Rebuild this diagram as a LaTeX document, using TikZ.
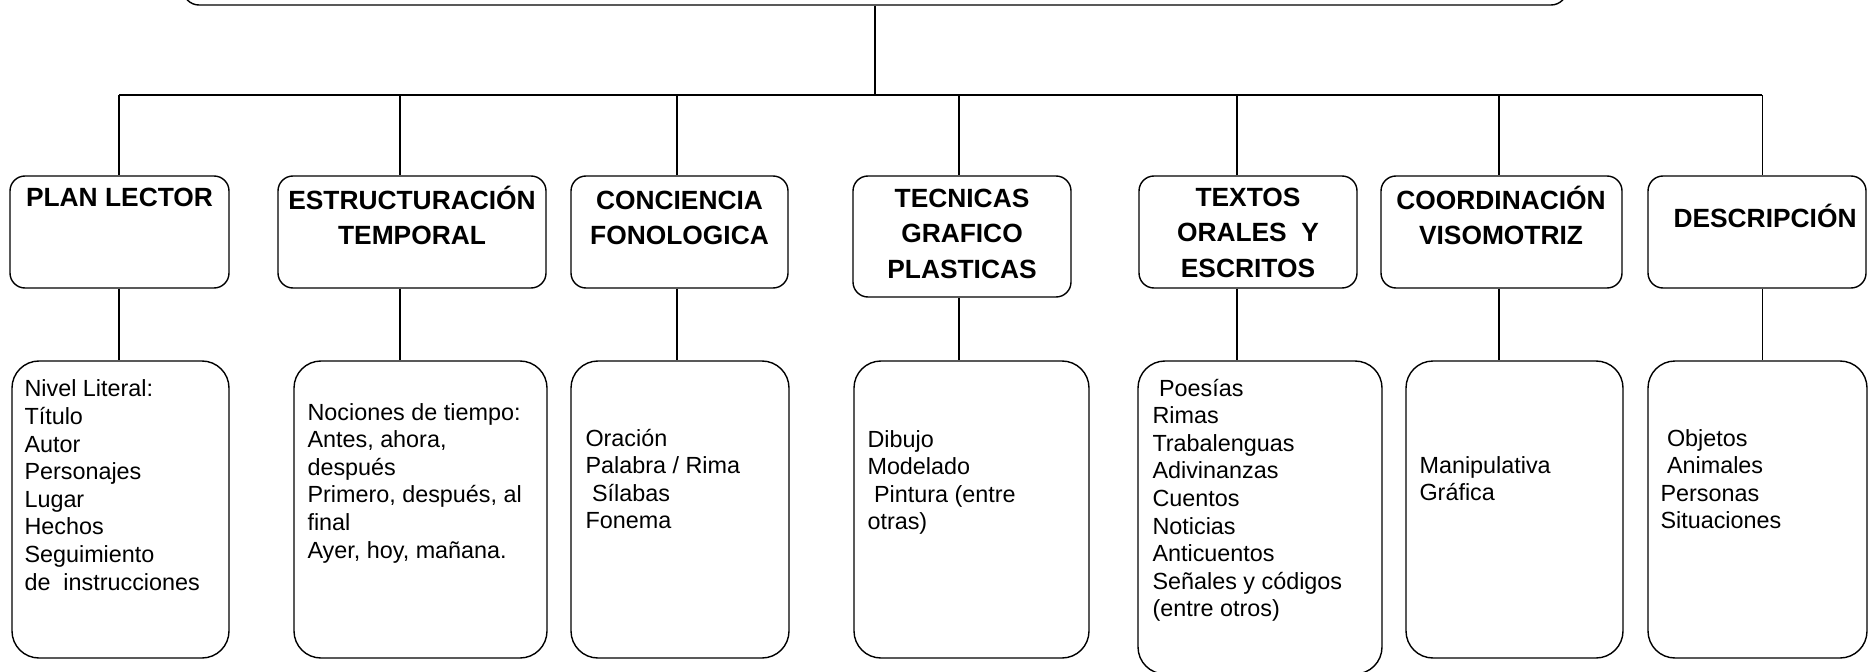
\documentclass[tikz,border=0pt]{standalone}
\usepackage{fontspec}
\setmainfont{Liberation Sans}
\usetikzlibrary{fit,
positioning}

\begin{document}
\begin{tikzpicture} [x = 0.02cm,
    y = -0.02cm,
    line width = 0.6pt,
    every node/.style={inner sep = 0pt},
    root box/.style={rectangle, draw, rounded corners = 0.32cm,
        line width = 0.8pt},
    cat box/.style={rectangle, draw, rounded corners = 0.3cm,
        line width = 0.8pt},
    item box/.style={rectangle, draw, rounded corners = 0.54cm,
        line width = 0.8pt},
    cat text/.style={font={\fontsize{15}{20.3}\selectfont\bfseries},
        align = center, anchor = base},
    item text/.style={font={\fontsize{13.3}{15.7}\selectfont},
        align = left, anchor = base west}
  ]

  \useasboundingbox (0, 0) rectangle (1871, 672);

  \node [root box, fit = {(183, -60) (1567, 5)}] (root) {};

  \node [cat box, fit = {(10, 176) (229, 288)}]    (cat1) {};
  \node [cat box, fit = {(278, 176) (546, 288)}]   (cat2) {};
  \node [cat box, fit = {(571, 176) (788, 288)}]   (cat3) {};
  \node [cat box, fit = {(853, 176) (1071, 297)}]  (cat4) {};
  \node [cat box, fit = {(1139, 176) (1357, 288)}] (cat5) {};
  \node [cat box, fit = {(1381, 176) (1622, 288)}] (cat6) {};
  \node [cat box, fit = {(1648, 176) (1866, 288)}] (cat7) {};

  \node [cat text] (cat1 txt) at (119.5, 207) {PLAN LECTOR};
  \node [cat text] (cat2 txt) at (412, 244.7)  {ESTRUCTURACIÓN\\TEMPORAL};
  \node [cat text] (cat3 txt) at (679.5, 244.7) {CONCIENCIA\\FONOLOGICA};
  \node [cat text] (cat4 txt) at (962, 278.4)  {TECNICAS\\GRAFICO\\PLASTICAS};
  \node [cat text] (cat5 txt) at (1248, 277.4) {TEXTOS\\ORALES \ Y\\ESCRITOS};
  \node [cat text] (cat6 txt) at (1501, 244.7) {COORDINACIÓN\\VISOMOTRIZ};
  \node [cat text] (cat7 txt) at (1765, 227)   {DESCRIPCIÓN};

  \node [item box, fit = {(12, 361) (229, 658)}]    (item1) {};
  \node [item box, fit = {(294, 361) (547, 658)}]   (item2) {};
  \node [item box, fit = {(571, 361) (789, 658)}]   (item3) {};
  \node [item box, fit = {(854, 361) (1089, 658)}]  (item4) {};
  \node [item box, fit = {(1138, 361) (1382, 674)}] (item5) {};
  \node [item box, fit = {(1406, 361) (1623, 658)}] (item6) {};
  \node [item box, fit = {(1648, 361) (1867, 658)}] (item7) {};

  \node [item text] (item1 txt) at (24, 590)
    {Nivel Literal:\\Título\\Autor\\Personajes\\Lugar\\Hechos\\Seguimiento\\de \ instrucciones};
  \node [item text] (item2 txt) at (307, 558)
    {Nociones de tiempo:\\Antes, ahora,\\después\\Primero, después, al\\final\\Ayer, hoy, mañana.};
  \node [item text] (item3 txt) at (585, 528.8)
    {Oración\\Palabra / Rima\\\ Sílabas\\Fonema};
  \node [item text] (item4 txt) at (867, 529.8)
    {Dibujo\\Modelado\\\ Pintura (entre\\otras)};
  \node [item text] (item5 txt) at (1152, 616.8)
    {\ Poesías\\Rimas\\Trabalenguas\\Adivinanzas\\Cuentos\\Noticias\\Anticuentos\\Señales y códigos\\(entre otros)};
  \node [item text] (item6 txt) at (1419, 500.6)
    {Manipulativa\\Gráfica};
  \node [item text] (item7 txt) at (1660, 528.8)
    {\ Objetos\\\ Animales\\Personas\\Situaciones};

  \coordinate (bus1) at (119, 95);
  \coordinate (bus2) at (400, 95);
  \coordinate (bus3) at (677, 95);
  \coordinate (bus4) at (959, 95);
  \coordinate (bus5) at (1237, 95);
  \coordinate (bus6) at (1499, 95);
  \coordinate (bus7) at (1762, 95);

  \draw (root.south) -- (root.south |- bus1);
  \draw (bus1) -- (bus7);

  \draw (bus1) -- (bus1 |- cat1.north);
  \draw (bus2) -- (bus2 |- cat2.north);
  \draw (bus3) -- (bus3 |- cat3.north);
  \draw (bus4) -- (bus4 |- cat4.north);
  \draw (bus5) -- (bus5 |- cat5.north);
  \draw (bus6) -- (bus6 |- cat6.north);
  \draw (bus7) -- (bus7 |- cat7.north);

  \draw (bus1 |- cat1.south) -- (bus1 |- item1.north);
  \draw (bus2 |- cat2.south) -- (bus2 |- item2.north);
  \draw (bus3 |- cat3.south) -- (bus3 |- item3.north);
  \draw (bus4 |- cat4.south) -- (bus4 |- item4.north);
  \draw (bus5 |- cat5.south) -- (bus5 |- item5.north);
  \draw (bus6 |- cat6.south) -- (bus6 |- item6.north);
  \draw (bus7 |- cat7.south) -- (bus7 |- item7.north);

\end{tikzpicture}
\end{document}
